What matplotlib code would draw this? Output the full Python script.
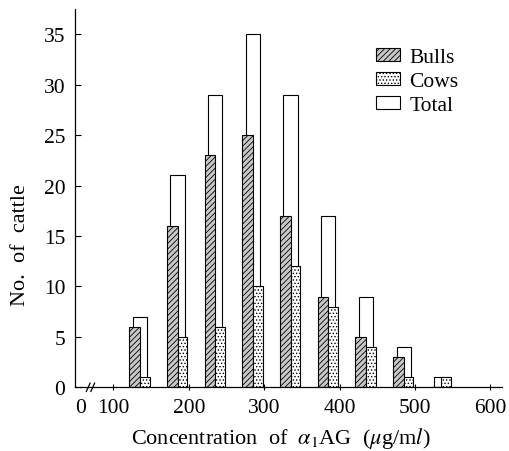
import matplotlib
matplotlib.use("Agg")
import matplotlib.pyplot as plt
import matplotlib.transforms as mtransforms
from matplotlib.patches import Patch
import numpy as np

# ---- data ----
bin_centers = [135, 185, 235, 285, 335, 385, 435, 485, 535]
bulls = [6, 16, 23, 25, 17, 9, 5, 3, 0]
cows = [1, 5, 6, 10, 12, 8, 4, 1, 1]
total = [7, 21, 29, 35, 29, 17, 9, 4, 1]
xticks = [100, 200, 300, 400, 500, 600]
xtick_labels = ['100', '200', '300', '400', '500', '600']
yticks = [0, 5, 10, 15, 20, 25, 30, 35]
zero_label_pos = 56   # where the "0" of the broken axis is written

plt.rcParams['font.family'] = ['Liberation Serif', 'DejaVu Serif']
plt.rcParams['mathtext.fontset'] = 'stix'
plt.rcParams['hatch.linewidth'] = 0.6

fig = plt.figure(figsize=(5.1, 4.52), dpi=100)
ax = fig.add_axes([75/510, 1-388.3/452, (501.7-75)/510, (388.3-10)/452])

c = np.array(bin_centers, dtype=float)
ax.bar(c, total, width=19, facecolor='white', edgecolor='black', linewidth=0.8, zorder=1)
ax.bar(c - 7, bulls, width=14, facecolor='#c8c8c8', edgecolor='black', hatch='//////',
       linewidth=0.8, zorder=2)
ax.bar(c + 6.5, cows, width=13, facecolor='white', edgecolor='black', hatch='.....',
       linewidth=0.8, zorder=2)

ax.set_xlim(49, 615)
ax.set_ylim(0, 37.5)
for s in ['top', 'right']:
    ax.spines[s].set_visible(False)
for s in ['left', 'bottom']:
    ax.spines[s].set_linewidth(0.9)

ax.set_xticks([zero_label_pos] + xticks)
ax.set_xticklabels(['0'] + xtick_labels)
ax.set_yticks(yticks)
ax.tick_params(axis='x', direction='inout', length=5, width=0.8, labelsize=15.5, pad=5)
ax.tick_params(axis='y', direction='in', length=4, width=0.8, labelsize=15.5, pad=7)
first = ax.xaxis.get_major_ticks()[0]
first.tick1line.set_visible(False)
first.tick2line.set_visible(False)

trans = mtransforms.blended_transform_factory(ax.transData, ax.transAxes)
for xb in (66.5, 72.5):
    ax.plot([xb - 2.5, xb + 2.5], [-0.011, 0.011], transform=trans, color='black',
            linewidth=0.9, clip_on=False)

ax.set_xlabel(r'Concentration  of  $\alpha_1$AG  ($\mu$g/m$l$)', fontsize=16)
ax.xaxis.set_label_coords(0.483, -0.1)
ax.set_ylabel('No.  of  cattle', fontsize=16)
ax.yaxis.set_label_coords(-0.105, 0.379)

handles = [Patch(facecolor='#c8c8c8', edgecolor='black', hatch='//////', linewidth=0.8),
           Patch(facecolor='white', edgecolor='black', hatch='.....', linewidth=0.8),
           Patch(facecolor='white', edgecolor='black', linewidth=0.8)]
ax.legend(handles, ['Bulls', 'Cows', 'Total'], loc='upper left', bbox_to_anchor=(0.705, 0.897),
          frameon=False, fontsize=15.5, borderaxespad=0, borderpad=0, handlelength=1.12,
          handleheight=0.56, handletextpad=0.45, labelspacing=0.22)

fig.savefig('out.png', dpi=100)
